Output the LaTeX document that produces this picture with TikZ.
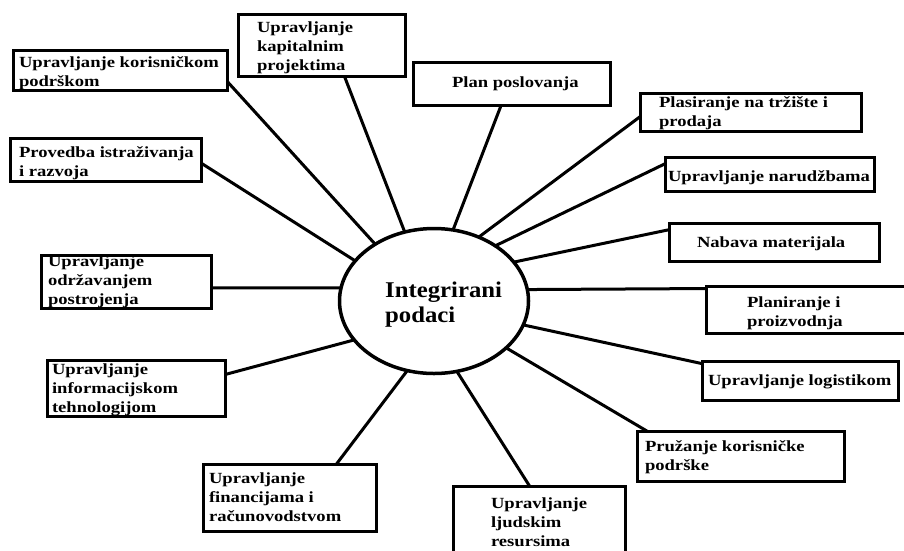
\documentclass[tikz,border=0pt]{standalone}
\usepackage{fontspec}
\setmainfont{Liberation Serif}[FakeStretch=1.2]
\newfontfamily\hubfont{Liberation Serif}[FakeStretch=1.1]
\usetikzlibrary{shapes.geometric}
\begin{document}
\begin{tikzpicture}[x=1pt,y=-1pt,
  box/.style={draw, line width=3.5pt, rectangle, inner sep=0pt, outer sep=0pt},
  txt/.style={inner sep=0pt, outer sep=0pt, align=left, anchor=base west,
    font=\fontsize{15.5}{19}\selectfont\bfseries},
  hub/.style={draw, line width=3.5pt, ellipse, inner sep=0pt, outer sep=0pt,
    minimum width=189pt, minimum height=145pt},
  link/.style={line width=3pt}]
\useasboundingbox (0,0) rectangle (904,550);
\fill[white] (0,0) rectangle (904,550);
% hub
\node[hub] (e) at (434,301) {};
\node[inner sep=0pt, align=left, anchor=base west,
  font=\hubfont\fontsize{22.5}{25}\selectfont\bfseries] (et) at (385,322) {Integrirani\\podaci};
% boxes
\node[box, minimum width=214pt, minimum height=40pt] (b1) at (120.5,70.5) {};
\node[box, minimum width=167pt, minimum height=62pt] (b2) at (322,45.5) {};
\node[box, minimum width=197pt, minimum height=43pt] (b3) at (512,84) {};
\node[box, minimum width=221pt, minimum height=38pt] (b4) at (751,112.5) {};
\node[box, minimum width=209pt, minimum height=34pt] (b5) at (770,174.5) {};
\node[box, minimum width=210pt, minimum height=38pt] (b6) at (774.5,242.5) {};
\node[box, minimum width=202pt, minimum height=47pt] (b7) at (807.5,310) {};
\node[box, minimum width=196pt, minimum height=39pt] (b8) at (800.5,381) {};
\node[box, minimum width=207pt, minimum height=50pt] (b9) at (741,456.5) {};
\node[box, minimum width=172pt, minimum height=72pt] (b10) at (539.5,522.5) {};
\node[box, minimum width=173pt, minimum height=67pt] (b11) at (290,498) {};
\node[box, minimum width=178pt, minimum height=56pt] (b12) at (136.5,388.5) {};
\node[box, minimum width=170pt, minimum height=53pt] (b13) at (126.5,282) {};
\node[box, minimum width=191pt, minimum height=43pt] (b14) at (106,160) {};
% texts (anchor = baseline of last line)
\node[txt] (t1) at (19,86) {Upravljanje korisničkom\\podrškom};
\node[txt] (t2) at (257,70) {Upravljanje\\kapitalnim\\projektima};
\node[txt] (t3) at (452,87) {Plan poslovanja};
\node[txt] (t4) at (659,126) {Plasiranje na tržište i\\prodaja};
\node[txt] (t5) at (668,181) {Upravljanje narudžbama};
\node[txt] (t6) at (697,247) {Nabava materijala};
\node[txt] (t7) at (747,326) {Planiranje i\\proizvodnja};
\node[txt] (t8) at (708,385) {Upravljanje logistikom};
\node[txt] (t9) at (645,470) {Pružanje korisničke\\podrške};
\node[txt] (t10) at (491,546) {Upravljanje\\ljudskim\\resursima};
\node[txt] (t11) at (209,521) {Upravljanje\\financijama i\\računovodstvom};
\node[txt] (t12) at (52,412) {Upravljanje\\informacijskom\\tehnologijom};
\node[txt] (t13) at (48,304) {Upravljanje\\održavanjem\\postrojenja};
\node[txt] (t14) at (19,176) {Provedba istraživanja\\i razvoja};
% links
\draw[link] (b1.-6.6) -- (e.136.9);
\draw[link] (b2.-54.7) -- (e.113.6);
\draw[link] (b3.-117.6) -- (e.75.6);
\draw[link] (b4.182.3) -- (e.55.9);
\draw[link] (b5.174.9) -- (e.42.2);
\draw[link] (b6.173.8) -- (e.26.8);
\draw[link] (b7.168.4) -- (e.7.1);
\draw[link] (b8.170.3) -- (e.-15.2);
\draw[link] (b9.165) -- (e.-33.5);
\draw[link] (b10.105.6) -- (e.-72.7);
\draw[link] (b11.36.1) -- (e.-111.9);
\draw[link] (b12.9.7) -- (e.206.6);
\draw[link] (b13.-4) -- (e.172.2);
\draw[link] (b14.-2.95) -- (e.153.4);
\end{tikzpicture}
\end{document}
